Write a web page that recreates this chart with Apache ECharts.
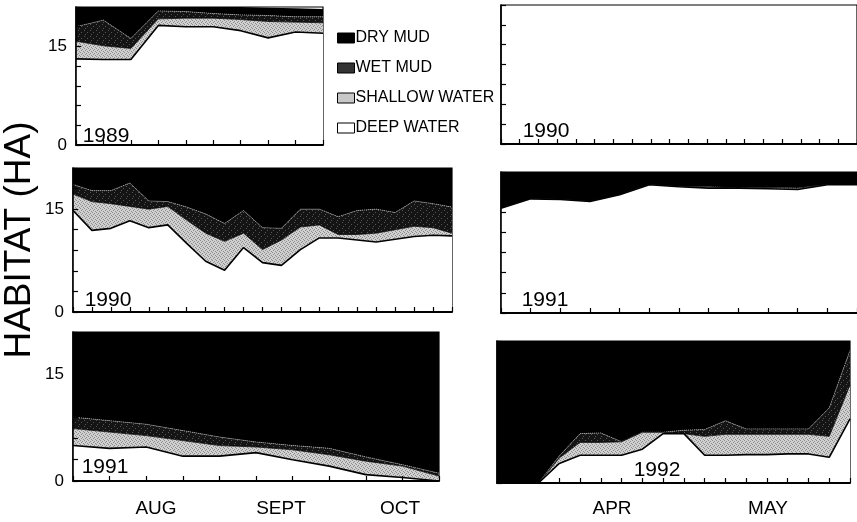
<!DOCTYPE html>
<html>
<head>
<meta charset="utf-8">
<script src="https://cdn.jsdelivr.net/npm/echarts@6/dist/echarts.min.js"></script>
<style>
html,body{margin:0;padding:0;background:#fff;}
#chart{width:857px;height:522px;}
</style>
</head>
<body>
<div id="chart"></div>
<script>
// ---- DATA (hectares) ----
const seriesNames = ['DEEP WATER', 'SHALLOW WATER', 'WET MUD', 'DRY MUD'];
const yTicksShown = [0, 15];
const fallMonths = ['AUG', 'SEPT', 'OCT'];
const springMonths = ['APR', 'MAY'];

// Fall 1989 (top-left)
const surveysFall1989 = ['1','2','3','4','5','6','7','8','9','10'];
const deepFall1989    = [13.1, 13.0, 13.0, 18.2, 18.0, 18.0, 17.4, 16.3, 17.2, 17.0];
const shallowFall1989 = [2.7, 2.1, 1.7, 1.0, 1.3, 1.3, 1.7, 2.5, 1.5, 1.6];
const wetFall1989     = [2.2, 3.9, 1.5, 1.2, 1.0, 0.7, 0.7, 0.9, 0.8, 0.9];
const dryFall1989     = [3.0, 2.0, 4.8, 0.6, 0.7, 1.0, 1.2, 1.2, 1.3, 1.2];

// Spring 1990 (top-right, no data)
const surveysSpring1990 = ['1','2','3','4','5','6','7','8','9','10','11','12','13','14','15','16','17','18','19','20'];

// Fall 1990 (middle-left)
const surveysFall1990 = ['1','2','3','4','5','6','7','8','9','10','11','12','13','14','15','16','17','18','19','20','21'];
const deepFall1990    = [14.8, 11.9, 12.2, 13.3, 12.3, 12.7, 10.0, 7.4, 6.1, 9.4, 7.2, 6.8, 9.1, 10.8, 10.8, 10.5, 10.2, 10.6, 11.0, 11.2, 11.1];
const shallowFall1990 = [2.4, 4.2, 3.6, 2.1, 2.7, 2.7, 3.4, 4.1, 4.2, 2.1, 1.9, 3.7, 3.3, 1.9, 0.5, 0.8, 1.3, 1.4, 1.5, 1.1, 0.4];
const wetFall1990     = [1.4, 1.6, 1.9, 3.4, 1.2, 0.7, 1.9, 2.8, 2.6, 3.3, 3.2, 1.7, 2.6, 2.3, 2.6, 3.5, 3.5, 2.5, 3.7, 3.5, 3.8];
const dryFall1990     = [2.4, 3.3, 3.3, 2.2, 4.8, 4.9, 5.7, 6.7, 8.1, 6.2, 8.7, 8.8, 6.0, 6.0, 7.1, 6.2, 6.0, 6.5, 4.8, 5.2, 5.7];

// Spring 1991 (middle-right)
const surveysSpring1991 = ['1','2','3','4','5','6','7','8','9','10','11','12','13'];
const deepSpring1991    = [15.6, 17.0, 16.9, 16.6, 17.6, 19.1, 18.8, 18.6, 18.6, 18.5, 18.4, 19.1, 19.1];
const shallowSpring1991 = [0, 0, 0, 0, 0, 0, 0, 0.2, 0, 0.2, 0.2, 0, 0];
const wetSpring1991     = [0, 0, 0, 0, 0, 0, 0, 0, 0, 0, 0, 0, 0];
const drySpring1991     = [5.4, 4.0, 4.1, 4.4, 3.4, 1.9, 2.2, 2.2, 2.4, 2.3, 2.4, 1.9, 1.9];

// Fall 1991 (bottom-left)
const surveysFall1991 = ['1','2','3','4','5','6','7','8','9','10','11'];
const deepFall1991    = [5.0, 4.6, 4.8, 3.5, 3.5, 4.0, 3.0, 2.1, 0.9, 0.5, 0.0];
const shallowFall1991 = [2.4, 2.3, 1.6, 2.2, 1.5, 0.8, 1.4, 1.6, 1.9, 1.6, 0.7];
const wetFall1991     = [1.6, 1.6, 1.6, 1.4, 1.2, 0.7, 0.6, 0.9, 0.6, 0.2, 0.4];
const dryFall1991     = [12.0, 12.5, 13.0, 13.9, 14.8, 15.5, 16.0, 16.4, 17.6, 18.7, 19.9];

// Spring 1992 (bottom-right)
const surveysSpring1992 = ['1','2','3','4','5','6','7','8','9','10','11','12','13','14','15','16','17','18'];
const deepSpring1992    = [0, 0, 0, 2.9, 4.1, 4.1, 4.1, 5.0, 7.3, 7.3, 4.1, 4.1, 4.2, 4.2, 4.3, 4.3, 3.8, 9.5];
const shallowSpring1992 = [0, 0, 0, 0.8, 1.9, 1.9, 2.0, 2.5, 0.2, 0, 2.8, 3.1, 3.0, 3.0, 2.9, 2.9, 3.1, 5.0];
const wetSpring1992     = [0, 0, 0, 0.3, 1.3, 1.4, 0, 0, 0, 0.5, 1.0, 2.0, 0.8, 0.8, 0.8, 0.8, 4.2, 5.1];
const drySpring1992     = [21, 21, 21, 17.0, 13.7, 13.6, 14.9, 13.5, 13.5, 13.2, 13.1, 11.8, 13.0, 13.0, 13.0, 13.0, 9.9, 1.4];

// ---- STYLE ----
const FONT = '"Liberation Sans", Arial, Helvetica, sans-serif';
function stipple(bg, fg, cells, size) {
  const c = document.createElement('canvas');
  c.width = size; c.height = size;
  const g = c.getContext('2d');
  g.fillStyle = bg; g.fillRect(0, 0, size, size);
  g.fillStyle = fg;
  cells.forEach(p => g.fillRect(p[0], p[1], 1, 1));
  return { image: c, repeat: 'repeat' };
}
const shallowFill = stipple('#d0d0d0', '#8c8c8c', [[0,0],[2,1],[1,2],[3,3]], 4);
const wetFill = stipple('#141414', '#555555', [[0,0],[3,2],[1,4]], 6);

const panels = [
  { grid: { left: 76, top: 7, width: 247, height: 138 }, cats: surveysFall1989, data: [deepFall1989, shallowFall1989, wetFall1989, dryFall1989], labels: true },
  { grid: { left: 501, top: 5, width: 358, height: 139 }, cats: surveysSpring1990, data: null, labels: false },
  { grid: { left: 73, top: 168, width: 379, height: 144 }, cats: surveysFall1990, data: [deepFall1990, shallowFall1990, wetFall1990, dryFall1990], labels: true },
  { grid: { left: 501, top: 172, width: 358, height: 141 }, cats: surveysSpring1991, data: [deepSpring1991, shallowSpring1991, wetSpring1991, drySpring1991], labels: false },
  { grid: { left: 73, top: 332, width: 366, height: 149 }, cats: surveysFall1991, data: [deepFall1991, shallowFall1991, wetFall1991, dryFall1991], labels: true },
  { grid: { left: 497, top: 341, width: 353, height: 142 }, cats: surveysSpring1992, data: [deepSpring1992, shallowSpring1992, wetSpring1992, drySpring1992], labels: false }
];

const seriesStyle = [
  { item: '#ffffff', area: '#ffffff', line: { color: '#000', width: 1.6, type: 'solid' }, z: 6 },
  { item: '#c8c8c8', area: shallowFill, line: { color: '#000', width: 0.8, type: 'solid' }, z: 5 },
  { item: '#333333', area: wetFill, line: { color: '#a0a0a0', width: 1, type: 'dotted' }, z: 4 },
  { item: '#000000', area: '#000000', line: { width: 0 }, z: 3 }
];

const grids = [], xAxes = [], yAxes = [], series = [];
panels.forEach((p, gi) => {
  grids.push(Object.assign({ show: true, borderColor: '#000', borderWidth: 1.2, backgroundColor: 'transparent', containLabel: false }, p.grid));
  xAxes.push({
    type: 'category', gridIndex: gi, data: p.cats, boundaryGap: false,
    axisLine: { lineStyle: { color: '#000', width: 1.8 } },
    axisTick: { show: true, inside: true, length: 5, lineStyle: { color: '#000', width: 1.2 }, interval: 0 },
    axisLabel: { show: false }, splitLine: { show: false }, z: 10
  });
  yAxes.push({
    type: 'value', gridIndex: gi, min: 0, max: 21, interval: 3,
    axisLine: { show: true, lineStyle: { color: '#000', width: 1.6 } },
    axisTick: { show: true, inside: true, length: 5, lineStyle: { color: '#000', width: 1.2 } },
    axisLabel: {
      show: p.labels, color: '#000', fontSize: 17, fontFamily: FONT, margin: 9,
      formatter: v => (yTicksShown.indexOf(v) >= 0 ? String(v) : '')
    },
    splitLine: { show: false }, z: 10
  });
  if (p.data) {
    p.data.forEach((arr, si) => {
      const st = seriesStyle[si];
      series.push({
        name: seriesNames[si], type: 'line', xAxisIndex: gi, yAxisIndex: gi,
        stack: 'habitat' + gi, data: arr, symbol: 'none', smooth: false,
        z: st.z,
        itemStyle: { color: st.item },
        lineStyle: st.line,
        areaStyle: { color: st.area, opacity: 1 },
        emphasis: { disabled: true }
      });
    });
  }
});

const txt = (text, x, y, size, extra) => Object.assign({
  type: 'text', x: x, y: y, z: 20,
  style: { text: text, fill: '#000', font: size + 'px ' + FONT, textAlign: 'center', textVerticalAlign: 'middle' }
}, extra || {});

const graphics = [
  txt('HABITAT (HA)', 20, 240, 37, { rotation: Math.PI / 2 }),
  txt('1989', 106, 136, 21),
  txt('1990', 546, 131, 21),
  txt('1990', 108, 300, 21),
  txt('1991', 545, 300, 21),
  txt('1991', 105, 467, 21),
  txt('1992', 657, 470, 21),
  txt(fallMonths[0], 156, 509, 19),
  txt(fallMonths[1], 281, 509, 19),
  txt(fallMonths[2], 400, 509, 19),
  txt(springMonths[0], 612, 509, 19),
  txt(springMonths[1], 768, 509, 19)
];

const chart = echarts.init(document.getElementById('chart'), null, { renderer: 'canvas' });
chart.setOption({
  animation: false,
  backgroundColor: '#fff',
  grid: grids, xAxis: xAxes, yAxis: yAxes, series: series,
  legend: {
    data: ['DRY MUD', 'WET MUD', 'SHALLOW WATER', 'DEEP WATER'],
    orient: 'vertical', left: 332, top: 24, itemGap: 12,
    icon: 'rect', itemWidth: 17, itemHeight: 10,
    itemStyle: { borderColor: '#000', borderWidth: 1 },
    textStyle: { color: '#000', fontSize: 16, fontFamily: FONT, padding: [0, 0, 0, -4], lineHeight: 18 },
    selectedMode: false
  },
  graphic: graphics
});
</script>
</body>
</html>
